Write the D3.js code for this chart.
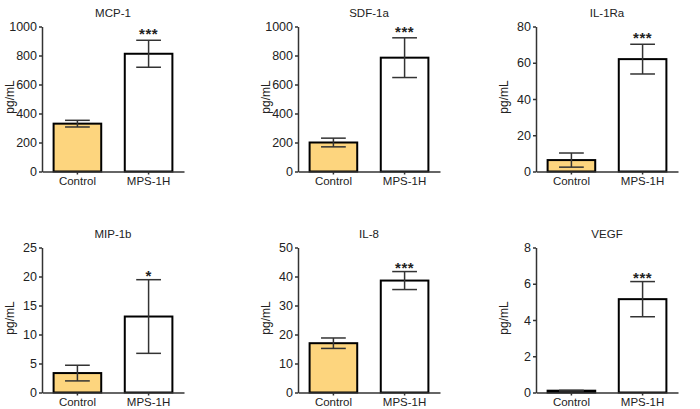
<!DOCTYPE html>
<html>
<head>
<meta charset="utf-8">
<script src="https://cdn.jsdelivr.net/npm/d3@7"></script>
<style>
  html, body { margin: 0; padding: 0; background: #fff; }
  svg { display: block; }
  text { font-family: "Liberation Sans", Arial, Helvetica, sans-serif; fill: #222; }
</style>
</head>
<body>
<svg id="chart" width="700" height="409"></svg>
<script>
// ---- data ----
const categories = ["Control", "MPS-1H"];
const titles = ["MCP-1", "SDF-1a", "IL-1Ra", "MIP-1b", "IL-8", "VEGF"];
const yMax = [1000, 1000, 80, 25, 50, 8];
const yTickStep = [200, 200, 20, 5, 10, 2];
const controlMean = [330, 200, 6.3, 3.35, 17.0, 0.1];
const controlSem = [23, 30, 3.9, 1.35, 1.8, 0.02];
const mpsMean = [812, 785, 62, 13.1, 38.6, 5.15];
const mpsSem = [93, 137, 8.2, 6.35, 3.1, 0.97];
const significance = ["***", "***", "***", "*", "***", "***"];
const yLabel = "pg/mL";

// ---- layout ----
const svg = d3.select("#chart");
const colX = [42, 298, 536];
const rowTop = [26.5, 247.5];
const plotW = 142, plotH = 145;
const fillColors = ["#FDD57E", "#FFFFFF"];
const FONT = '"Liberation Sans", Arial, sans-serif';

titles.forEach((title, i) => {
  const row = Math.floor(i / 3), col = i % 3;
  const g = svg.append("g").attr("transform", `translate(${colX[col]},${rowTop[row]})`);

  const y = d3.scaleLinear().domain([0, yMax[i]]).range([plotH, 0]);
  const x = d3.scaleBand().domain(categories).range([0, plotW])
    .paddingInner(0.331).paddingOuter(0.163);

  const means = [controlMean[i], mpsMean[i]];
  const sems = [controlSem[i], mpsSem[i]];
  const data = categories.map((c, k) => ({ cat: c, mean: means[k], sem: sems[k], fill: fillColors[k] }));

  // bars
  g.selectAll("rect.bar").data(data).join("rect")
    .attr("class", "bar")
    .attr("x", d => x(d.cat))
    .attr("y", d => y(d.mean))
    .attr("width", x.bandwidth())
    .attr("height", d => y(0) - y(d.mean))
    .attr("fill", d => d.fill)
    .attr("stroke", "#000")
    .attr("stroke-width", 2);

  // error bars
  const capW = x.bandwidth() * 0.52;
  const eb = g.selectAll("g.eb").data(data).join("g").attr("class", "eb")
    .attr("stroke", "#333").attr("stroke-width", 1.5);
  const cx = d => x(d.cat) + x.bandwidth() / 2;
  eb.append("line")
    .attr("x1", cx).attr("x2", cx)
    .attr("y1", d => y(d.mean + d.sem))
    .attr("y2", d => y(Math.max(0, d.mean - d.sem)));
  eb.append("line")
    .attr("x1", d => cx(d) - capW / 2).attr("x2", d => cx(d) + capW / 2)
    .attr("y1", d => y(d.mean + d.sem)).attr("y2", d => y(d.mean + d.sem));
  eb.append("line")
    .attr("x1", d => cx(d) - capW / 2).attr("x2", d => cx(d) + capW / 2)
    .attr("y1", d => y(Math.max(0, d.mean - d.sem)))
    .attr("y2", d => y(Math.max(0, d.mean - d.sem)));

  // y axis
  const ticks = d3.range(0, yMax[i] + yTickStep[i] / 2, yTickStep[i]);
  const yAxis = g.append("g")
    .call(d3.axisLeft(y).tickValues(ticks).tickFormat(d3.format("d"))
      .tickSize(3).tickSizeOuter(0).tickPadding(2));
  yAxis.selectAll("path, line").attr("stroke", "#333").attr("stroke-width", 1.5);
  yAxis.selectAll("text").attr("font-size", "12.5px").attr("fill", "#222").style("font-family", FONT);

  // x axis
  const xAxis = g.append("g").attr("transform", `translate(0,${plotH})`)
    .call(d3.axisBottom(x).tickSize(3).tickSizeOuter(0).tickPadding(2));
  xAxis.selectAll("path, line").attr("stroke", "#333").attr("stroke-width", 1.5);
  xAxis.selectAll("text").attr("font-size", "11.5px").attr("fill", "#222").style("font-family", FONT);

  // title
  g.append("text")
    .attr("x", plotW / 2).attr("y", -14)
    .attr("text-anchor", "middle").attr("dominant-baseline", "central")
    .attr("font-size", "11.5px")
    .text(title);

  // y label
  g.append("text")
    .attr("transform", `translate(-32,${plotH / 2 - 2}) rotate(-90)`)
    .attr("text-anchor", "middle").attr("dominant-baseline", "central")
    .attr("font-size", "12px")
    .text(yLabel);

  // significance stars
  const starGap = row === 0 ? 10 : 8;
  const mps = data[1];
  g.append("text")
    .attr("x", cx(mps))
    .attr("y", y(mps.mean + mps.sem) - starGap + 9)
    .attr("text-anchor", "middle")
    .attr("font-size", "15px").attr("font-weight", "bold")
    .attr("letter-spacing", "0.5px")
    .text(significance[i]);
});
</script>
</body>
</html>
